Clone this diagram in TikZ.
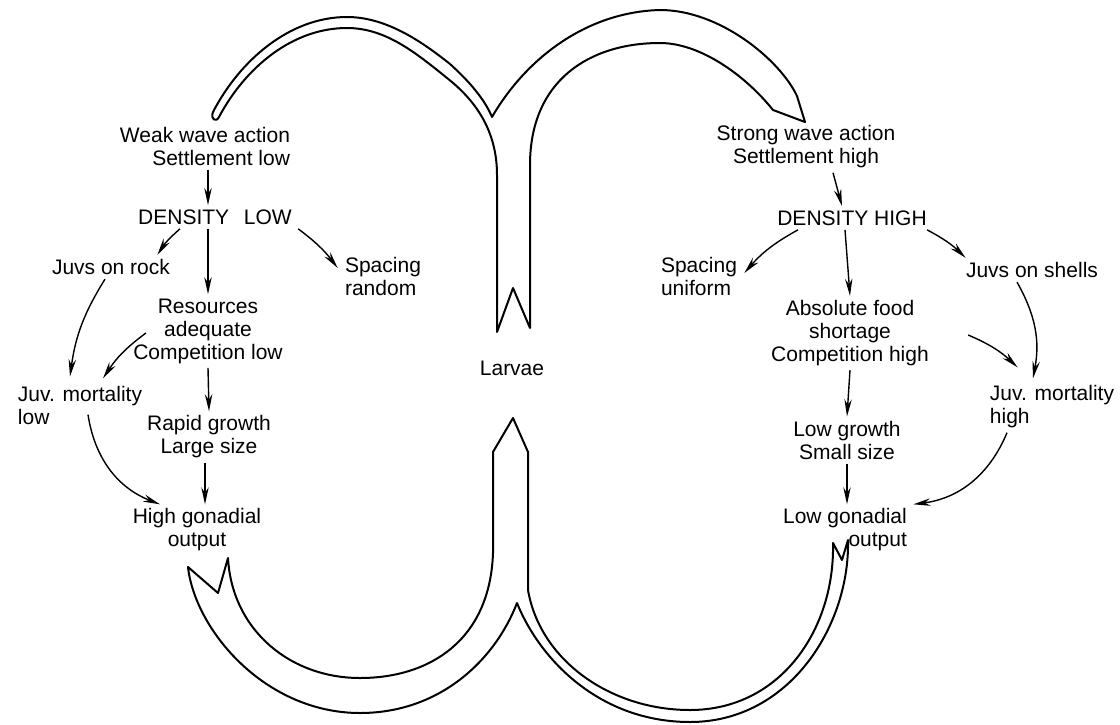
\documentclass[tikz,border=0pt]{standalone}
\usepackage{fontspec}
\setmainfont{Liberation Sans}
\usetikzlibrary{arrows.meta,calc}

\begin{document}
\begin{tikzpicture}[
    x=0.5pt, y=-0.5pt,
    font=\fontsize{10.5}{11.5}\selectfont,
    lbl/.style={inner sep=2pt, align=center},
    flow/.style={->, >={Stealth[length=3mm, width=1.3mm]}, line width=0.7pt},
    band/.style={line width=1pt, line join=round},
  ]
  \useasboundingbox (0,0) rectangle (1120,724);

  % upper band: larvae carried up to both shores
  \draw[band] (213,112) .. controls (240,60) and (290,17) .. (347,17)
    .. controls (385,17) and (420,40) .. (450,64)
    .. controls (470,82) and (485,100) .. (492,117)
    .. controls (525,60) and (585,12) .. (660,10)
    .. controls (720,10) and (780,60) .. (797,96)
    -- (805,122) -- (773,110)
    .. controls (745,75) and (700,43) .. (660,43)
    .. controls (590,43) and (530,80) .. (530,165)
    -- (530,328) -- (513,288) -- (497,332) -- (497,175)
    .. controls (497,130) and (475,100) .. (447,78)
    .. controls (415,52) and (385,28) .. (347,28)
    .. controls (292,28) and (245,68) .. (219,117)
    .. controls (216,123) and (210,119) .. (213,112) -- cycle;

  % lower band: gonadial output back to the larvae
  \draw[band] (513,418) -- (528,452) -- (528,590)
    .. controls (540,660) and (610,710) .. (690,710)
    .. controls (780,710) and (835,630) .. (833,543)
    -- (842,560) -- (848,540)
    .. controls (850,625) and (790,722) .. (690,722)
    .. controls (600,722) and (540,660) .. (517,603)
    .. controls (495,660) and (440,713) .. (360,713)
    .. controls (265,713) and (195,630) .. (188,567)
    -- (218,593) -- (228,558)
    .. controls (232,630) and (290,678) .. (360,678)
    .. controls (430,678) and (490,640) .. (493,553)
    -- (493,452) -- cycle;

  \node[lbl] (larvae) at (512,368) {Larvae};

  % sheltered shore
  \node[lbl, align=right] (weak) at (205,146) {Weak wave action\\Settlement low};
  \node[lbl] (dlow) at (215,217) {DENSITY\hspace{0.7em}LOW};
  \node[lbl] (rock) at (111,267) {Juvs on rock};
  \node[lbl, align=left] (sprand) at (383,276) {Spacing\\random};
  \node[lbl] (res) at (208,331) {Resources\\adequate\\Competition low};
  \node[lbl] (rapid) at (209,437) {Rapid growth\\Large size};
  \node[lbl] (hgo) at (197,530) {High gonadial\\output};
  \node[lbl, align=left] (jml) at (80,405) {Juv. mortality\\low};

  \draw[flow] ($(weak.south)+(3,0)$) -- ($(dlow.north)+(-7,0)$);
  \draw[flow] ($(dlow.south)+(-35,0)$) to[bend right=8] ($(rock.north east)+(-17,0)$);
  \draw[flow] ($(dlow.south east)+(2,0)$) to[bend left=8] ($(sprand.west)+(-3,-8)$);
  \draw[flow] ($(dlow.south)+(-7,0)$) -- (res.north);
  \draw[flow] ($(res.west)+(17,2)$) to[bend right=10] ($(jml.north)+(23,-3)$);
  \draw[flow] ($(rock.south)+(-6,0)$) to[bend right=12] ($(jml.north)+(-10,-5)$);
  \draw[flow] ($(jml.south)+(8,-14)$) to[bend right=30] ($(hgo.north)+(-37,0)$);
  \draw[flow] (res.south) -- (rapid.north);
  \draw[flow] ($(rapid.south)+(-4,0)$) -- ($(hgo.north)+(8,0)$);

  % exposed shore
  \node[lbl] (strong) at (806,147) {Strong wave action\\Settlement high};
  \node[lbl] (dhigh) at (852,218) {DENSITY HIGH};
  \node[lbl, align=left] (spuni) at (699,276) {Spacing\\uniform};
  \node[lbl] (food) at (850,333) {Absolute food\\shortage\\Competition high};
  \node[lbl] (lowg) at (847,440) {Low growth\\Small size};
  \node[lbl, align=right] (lgo) at (845,530) {Low gonadial\\output};
  \node[lbl] (shells) at (1032,270) {Juvs on shells};
  \node[lbl, align=left] (jmh) at (1052,407) {Juv. mortality\\high};

  \draw[flow] ($(strong.south)+(27,0)$) -- ($(dhigh.north)+(-10,0)$);
  \draw[flow] ($(dhigh.south)+(-54,0)$) to[bend right=10] ($(spuni.east)+(3,-3)$);
  \draw[flow] ($(dhigh.south)+(-7,0)$) -- (food.north);
  \draw[flow] ($(dhigh.south east)+(-4,0)$) to[bend left=8] ($(shells.north west)+(4,0)$);
  \draw[flow] ($(shells.south)+(-15,0)$) to[bend left=20] ($(jmh.north)+(-19,-3)$);
  \draw[flow] ($(food.east)+(35,2)$) to[bend left=10] ($(jmh.north west)+(32,-14)$);
  \draw[flow] (food.south) -- (lowg.north);
  \draw[flow] (lowg.south) -- ($(lgo.north)+(2,0)$);
  \draw[flow] ($(jmh.south)+(-45,0)$) to[bend left=30] ($(lgo.north east)+(2,0)$);
\end{tikzpicture}
\end{document}
